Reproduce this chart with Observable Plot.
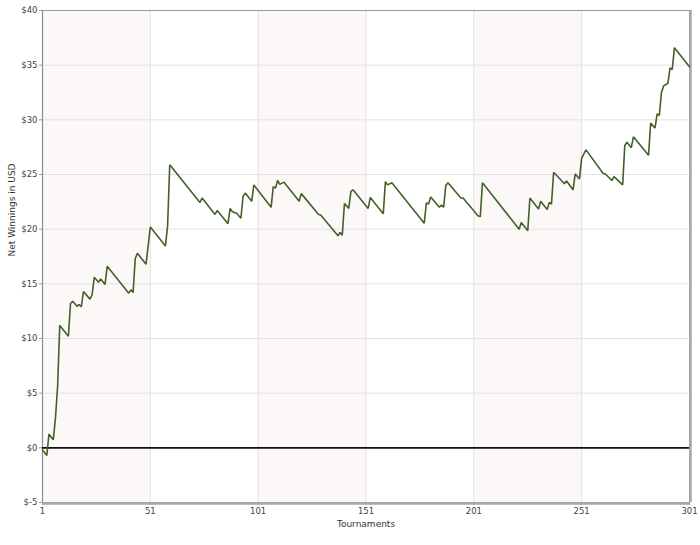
<!DOCTYPE html>
<html>
<head>
<meta charset="utf-8">
<script src="https://cdn.jsdelivr.net/npm/d3@7"></script>
<script src="https://cdn.jsdelivr.net/npm/@observablehq/plot@0.6"></script>
<style>
  html, body { margin: 0; padding: 0; background: #fff; }
  #chart { width: 700px; height: 545px; position: relative; }
  #chart svg { display: block; }
</style>
</head>
<body>
<div id="chart"></div>
<script>
// Tournament number (vertices of the cumulative line)
const tournaments = [
  1, 3, 4, 6, 7, 8, 9, 13, 14, 15, 17, 18, 19, 20, 23, 24, 25, 27, 28, 30,
  31, 41, 42, 43, 44, 45, 49, 51, 58, 59, 60, 74, 75, 81, 82, 87, 88, 89, 91, 93,
  94, 95, 98, 99, 107, 108, 109, 110, 111, 113, 120, 121, 129, 130, 138, 139, 140, 141, 143, 144,
  145, 152, 153, 159, 160, 161, 163, 178, 179, 180, 181, 185, 186, 187, 188, 189, 195, 196, 203, 204,
  205, 222, 223, 226, 227, 231, 232, 235, 236, 237, 238, 243, 244, 247, 248, 250, 251, 253, 261, 262,
  265, 266, 270, 271, 272, 274, 275, 282, 283, 285, 286, 287, 288, 289, 291, 292, 293, 294, 301
];
// Net winnings in USD at each vertex
const winnings = [
  -0.2, -0.7, 1.25, 0.75, 2.7, 5.6, 11.2, 10.2, 13.2, 13.4, 12.95, 13.1, 12.9, 14.3, 13.6, 14.0, 15.6, 15.15, 15.45, 14.95,
  16.6, 14.15, 14.45, 14.2, 17.3, 17.8, 16.8, 20.2, 18.45, 20.3, 25.9, 22.45, 22.85, 21.35, 21.7, 20.5, 21.9, 21.6, 21.45, 21.0,
  23.0, 23.3, 22.55, 24.05, 22.0, 23.9, 23.75, 24.45, 24.1, 24.3, 22.55, 23.25, 21.35, 21.3, 19.4, 19.7, 19.45, 22.35, 21.9, 23.45,
  23.6, 21.9, 22.9, 21.4, 24.35, 24.05, 24.25, 20.55, 22.4, 22.3, 22.95, 22.0, 22.2, 22.0, 24.0, 24.25, 22.85, 22.85, 21.2, 21.15,
  24.25, 20.0, 20.6, 19.85, 22.85, 21.85, 22.55, 21.8, 22.45, 22.3, 25.2, 24.15, 24.4, 23.6, 25.05, 24.6, 26.5, 27.25, 25.1, 25.05,
  24.45, 24.8, 24.05, 27.65, 27.95, 27.45, 28.45, 26.75, 29.7, 29.25, 30.55, 30.4, 32.5, 33.1, 33.35, 34.75, 34.6, 36.6, 34.85
];
const xTicks = [1, 51, 101, 151, 201, 251, 301];
const yTicks = [-5, 0, 5, 10, 15, 20, 25, 30, 35, 40];
const bandStart = [1, 101, 201];
const bandEnd = [51, 151, 251];

const data = tournaments.map((t, i) => ({t, v: winnings[i]}));
const bands = bandStart.map((s, i) => ({x1: s, x2: bandEnd[i]}));

const chart = Plot.plot({
  width: 700,
  height: 545,
  marginTop: 10,
  marginBottom: 43,
  marginLeft: 42,
  marginRight: 11,
  style: {fontFamily: "'DejaVu Sans', Verdana, sans-serif", fontSize: "8.5px", color: "#444", background: "#fff"},
  x: {domain: [1, 301]},
  y: {domain: [-5, 40]},
  marks: [
    Plot.rect(bands, {x1: "x1", x2: "x2", y1: -5, y2: 40, fill: "#fcf8f8"}),
    Plot.gridY(yTicks, {stroke: "#e2e2e2", strokeOpacity: 1, strokeWidth: 1}),
    Plot.gridX(xTicks, {stroke: "#e6dfdf", strokeOpacity: 1, strokeWidth: 1}),
    Plot.axisY(yTicks, {tickFormat: d => "$" + d, tickSize: 3, tickPadding: 2, stroke: "#999", label: null}),
    Plot.axisX(xTicks, {tickSize: 3, tickPadding: 2, stroke: "#999", label: null}),
    Plot.frame({stroke: "#999", strokeWidth: 1}),
    Plot.ruleY([-5], {stroke: "#a8a8a8", strokeWidth: 2.5, dy: 1}),
    Plot.ruleX([301], {stroke: "#a8a8a8", strokeWidth: 2.5, dx: 1}),
    Plot.ruleX([1], {stroke: "#8c8c8c", strokeWidth: 1.2}),
    Plot.ruleY([0], {stroke: "#111", strokeWidth: 1.6}),
    Plot.line(data, {x: "t", y: "v", stroke: "#42612a", strokeWidth: 1.6, strokeLinejoin: "miter"}),
    Plot.text(["Tournaments"], {frameAnchor: "bottom", dy: 24, fontSize: 9, fill: "#333"}),
    Plot.text(["Net Winnings in USD"], {frameAnchor: "left", dx: -30, rotate: -90, fontSize: 9, fill: "#333"})
  ]
});
document.getElementById("chart").appendChild(chart);
</script>
</body>
</html>
